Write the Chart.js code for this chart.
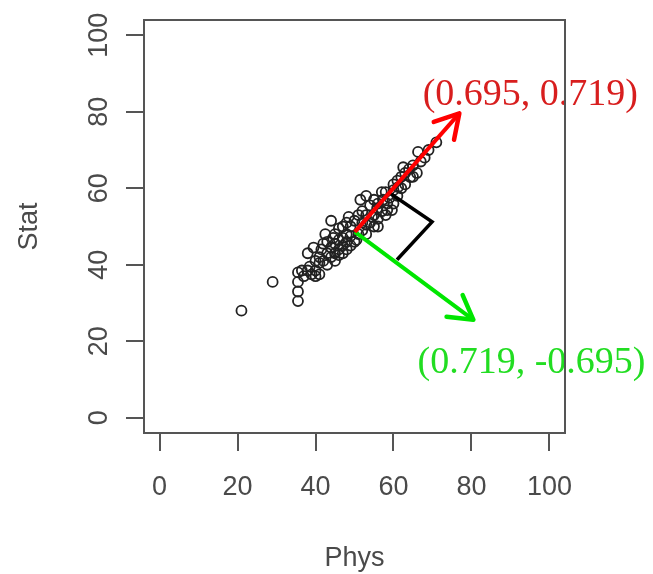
<!DOCTYPE html>
<html>
<head>
<meta charset="utf-8">
<script src="https://cdn.jsdelivr.net/npm/chart.js@4.4.0/dist/chart.umd.min.js"></script>
<style>
  html, body { margin: 0; padding: 0; background: #fff; }
  #wrap { width: 653px; height: 574px; }
</style>
</head>
<body>
<div id="wrap"><canvas id="pcaChart" width="653" height="574"></canvas></div>
<script>
const tickVals = [0, 20, 40, 60, 80, 100];

const phys = [21, 29, 35.5, 35.5, 35.5, 35.5, 36.5, 37, 38, 38.5, 39, 40, 40, 41, 41,
  38, 39.5, 40, 41, 41.5, 42, 42, 42.5, 43, 43, 43, 44, 44, 44, 44.5,
  45, 45, 45, 45, 46, 46, 46, 46, 47, 47, 47, 47, 48, 48, 48, 48, 48.5,
  49, 49, 49, 50, 50.5, 50, 51, 51, 51.5, 52, 52, 52, 53, 53, 53, 53,
  54, 54.5, 54, 55, 55, 55.8, 55, 56, 56, 56, 57, 57.3, 57, 58, 58.4, 58.4,
  58, 59.6, 59, 60, 60, 60, 61, 61.2, 61, 62, 62.5, 62, 63, 63, 64.3, 64,
  65, 65, 66, 66.3, 67, 68, 69, 71];
const stat = [28, 35.5, 30.5, 33, 35.5, 38, 38.5, 37, 38.5, 39.5, 37.5, 38.5, 37, 37.5, 40.5,
  43, 44.5, 41, 42, 44, 41, 45.5, 48, 40, 43, 46, 42, 44.5, 51.5, 47,
  41, 43, 45.5, 48, 42.5, 44, 46.5, 49.5, 43, 45, 47, 50, 44, 46, 48, 51, 52.5,
  45, 47.5, 50, 46, 46.5, 51.5, 48, 53, 57, 49, 51, 54, 48, 50.5, 53, 58,
  51, 52.5, 55.5, 50, 53, 54.8, 57, 50, 52, 56, 54, 57, 59, 53, 54.3, 56,
  59, 54.3, 57.5, 59.5, 56, 61, 58, 60.3, 62, 60, 65.5, 63, 61, 64, 62.9, 65,
  63, 66, 64, 69.5, 67, 68, 70, 72];

// arrows start at the mean, end where the picture shows them
const pc1Arrow = [{x: 50.1, y: 48.6}, {x: 76.9, y: 79.6}];
const pc2Arrow = [{x: 50.1, y: 48.6}, {x: 80.5, y: 25.6}];
const rightAngle = [{x: 59.1, y: 58.7}, {x: 69.9, y: 51.2}, {x: 60.9, y: 41.3}];

const vecLabels = ['(0.695, 0.719)', '(0.719, -0.695)'];
const vecLabelAt = [{x: 95.1, y: 84.3}, {x: 95.4, y: 14.4}];
const vecLabelColors = ['#d81e1e', '#22dd22'];

const axisFont = 'Liberation Sans, Arial, sans-serif';

const rStyle = {
  id: 'rStyle',
  afterDatasetsDraw(chart) {
    const ctx = chart.ctx;
    // arrow heads
    chart.data.datasets.forEach((ds, i) => {
      if (!ds.arrow) return;
      const pts = chart.getDatasetMeta(i).data;
      const a = pts[pts.length - 2], b = pts[pts.length - 1];
      const ang = Math.atan2(b.y - a.y, b.x - a.x);
      const len = 27;
      ctx.save();
      ctx.strokeStyle = ds.borderColor;
      ctx.lineWidth = ds.borderWidth + 0.5;
      ctx.lineCap = 'round';
      ctx.lineJoin = 'round';
      ctx.beginPath();
      ctx.moveTo(b.x - len * Math.cos(ang - Math.PI / 6), b.y - len * Math.sin(ang - Math.PI / 6));
      ctx.lineTo(b.x, b.y);
      ctx.lineTo(b.x - len * Math.cos(ang + Math.PI / 6), b.y - len * Math.sin(ang + Math.PI / 6));
      ctx.stroke();
      ctx.restore();
    });
    // vector labels
    const xs = chart.scales.x, ys = chart.scales.y;
    ctx.save();
    ctx.font = '38px "Liberation Serif", "Times New Roman", serif';
    ctx.textAlign = 'center';
    ctx.textBaseline = 'middle';
    vecLabels.forEach((t, i) => {
      ctx.fillStyle = vecLabelColors[i];
      ctx.fillText(t, xs.getPixelForValue(vecLabelAt[i].x), ys.getPixelForValue(vecLabelAt[i].y));
    });
    ctx.restore();
  },
  afterDraw(chart) {
    const ctx = chart.ctx;
    const {left, right, top, bottom} = chart.chartArea;
    ctx.save();
    ctx.strokeStyle = '#555';
    ctx.lineWidth = 2;
    ctx.strokeRect(left, top, right - left, bottom - top);
    // y tick labels, rotated like R
    const ys = chart.scales.y;
    ctx.font = '27px ' + axisFont;
    ctx.fillStyle = '#4a4a4a';
    ctx.textAlign = 'center';
    ctx.textBaseline = 'middle';
    tickVals.forEach(v => {
      ctx.save();
      ctx.translate(100, ys.getPixelForValue(v));
      ctx.rotate(-Math.PI / 2);
      ctx.fillText(String(v), 0, 0);
      ctx.restore();
    });
    ctx.restore();
  }
};

const axisBase = {
  type: 'linear',
  min: -4,
  max: 104,
  afterBuildTicks: s => { s.ticks = tickVals.map(v => ({value: v})); },
  grid: { drawOnChartArea: false, drawTicks: true, tickLength: 18, color: '#555', lineWidth: 2 },
  border: { display: true, color: '#555', width: 2 }
};

new Chart(document.getElementById('pcaChart'), {
  type: 'scatter',
  data: {
    datasets: [
      {
        data: pc1Arrow, showLine: true, arrow: true, order: 1,
        borderColor: '#ff0000', borderWidth: 4, pointRadius: 0
      },
      {
        data: pc2Arrow, showLine: true, arrow: true, order: 1,
        borderColor: '#00e600', borderWidth: 4, pointRadius: 0
      },
      {
        data: rightAngle, showLine: true, order: 1,
        borderColor: '#000', borderWidth: 3.5, pointRadius: 0
      },
      {
        data: phys.map((p, i) => ({x: p, y: stat[i]})), order: 2,
        pointStyle: 'circle', pointRadius: 5, borderWidth: 1.8,
        borderColor: '#222', backgroundColor: 'rgba(0,0,0,0)'
      }
    ]
  },
  options: {
    responsive: false,
    animation: false,
    layout: { padding: { left: 0, right: 88, top: 20, bottom: 0 } },
    plugins: { legend: { display: false }, tooltip: { enabled: false } },
    scales: {
      x: Object.assign({}, axisBase, {
        afterFit: s => { s.height = 141; },
        ticks: { padding: 20, color: '#4a4a4a', font: { family: axisFont, size: 27 } },
        title: {
          display: true, text: 'Phys', color: '#4a4a4a',
          font: { family: axisFont, size: 27, lineHeight: 1 },
          padding: { top: 0, bottom: 2 }
        }
      }),
      y: Object.assign({}, axisBase, {
        afterFit: s => { s.width = 144; },
        ticks: { display: false },
        title: {
          display: true, text: 'Stat', color: '#4a4a4a',
          font: { family: axisFont, size: 27, lineHeight: 1 },
          padding: { top: 16, bottom: 0 }
        }
      })
    }
  },
  plugins: [rStyle]
});
</script>
</body>
</html>
